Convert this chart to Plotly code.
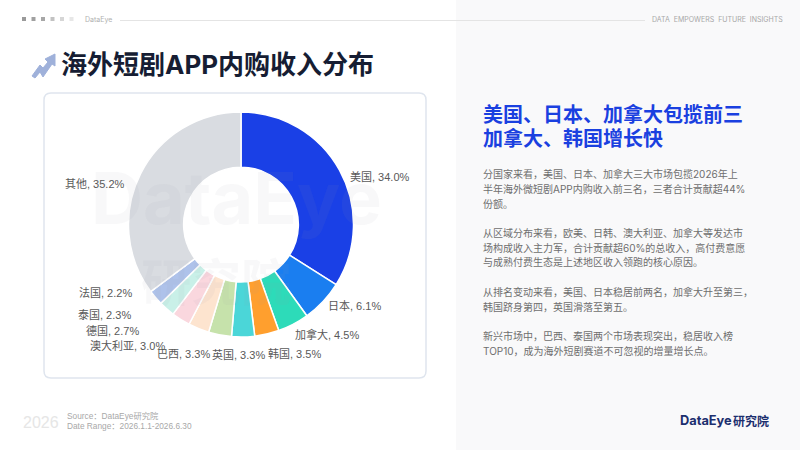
import plotly.graph_objects as go

W, H = 800, 450
CJK = "Noto Sans CJK SC"
MIXED = "Liberation Sans, " + CJK

# pie data, clockwise from 12 o'clock
countries = ["美国", "日本", "加拿大", "韩国", "英国", "巴西", "澳大利亚", "德国", "泰国", "法国", "其他"]
shares = [34.0, 6.1, 4.5, 3.5, 3.3, 3.3, 3.0, 2.7, 2.3, 2.2, 35.2]
slice_colors = ["#1a40e6", "#1a7ef0", "#2ddbb9", "#ff9f2e", "#4bd6d8", "#c6e2ab",
                "#fde4cf", "#fad7de", "#c9f0e8", "#aec2ea", "#d9dce1"]
# where each label sits in the reference (left edge, middle)
label_spots = [(350, 177), (328, 305), (295, 334), (268, 353), (212, 354), (157, 354),
               (90, 345), (86, 330), (78, 314), (79, 292), (65, 184)]

page_title = "海外短剧APP内购收入分布"
headline = ["美国、日本、加拿大包揽前三", "加拿大、韩国增长快"]
body_lines = [
    ("分国家来看，美国、日本、加拿大三大市场包揽2026年上", 174),
    ("半年海外微短剧APP内购收入前三名，三者合计贡献超44%", 189),
    ("份额。", 204),
    ("从区域分布来看，欧美、日韩、澳大利亚、加拿大等发达市", 233),
    ("场构成收入主力军，合计贡献超60%的总收入，高付费意愿", 248),
    ("与成熟付费生态是上述地区收入领跑的核心原因。", 262),
    ("从排名变动来看，美国、日本稳居前两名，加拿大升至第三，", 292),
    ("韩国跻身第四，英国滑落至第五。", 307),
    ("新兴市场中，巴西、泰国两个市场表现突出，稳居收入榜", 336),
    ("TOP10，成为海外短剧赛道不可忽视的增量增长点。", 351),
]
source_lines = [("Source：DataEye研究院", 416), ("Date Range：2026.1.1-2026.6.30", 426)]


def px(x):
    return x / W


def py(y):
    return 1 - y / H


def note(x, y, text, size, color, bold=False, anchor="left", family=CJK):
    # page text placed in pixels from the top left
    return dict(x=px(x), y=py(y), xref="paper", yref="paper", text=f"<b>{text}</b>" if bold else text,
                showarrow=False, xanchor=anchor, yanchor="middle", align="left", borderpad=0, borderwidth=0,
                font=dict(family=family, size=size, color=color))


def path_shape(d, fill, line="rgba(0,0,0,0)", width=0, layer="below"):
    return dict(type="path", path=d, xref="paper", yref="paper", fillcolor=fill,
                line=dict(color=line, width=width), layer=layer)


def rounded(x0, y0, x1, y1, r):
    return (f"M{px(x0 + r)},{py(y0)} L{px(x1 - r)},{py(y0)} Q{px(x1)},{py(y0)} {px(x1)},{py(y0 + r)} "
            f"L{px(x1)},{py(y1 - r)} Q{px(x1)},{py(y1)} {px(x1 - r)},{py(y1)} "
            f"L{px(x0 + r)},{py(y1)} Q{px(x0)},{py(y1)} {px(x0)},{py(y1 - r)} "
            f"L{px(x0)},{py(y0 + r)} Q{px(x0)},{py(y0)} {px(x0 + r)},{py(y0)} Z")


def poly(points):
    return "M" + " L".join(f"{px(a)},{py(b)}" for a, b in points) + " Z"


shapes = [
    # right panel
    dict(type="rect", xref="paper", yref="paper", x0=px(456), x1=1, y0=0, y1=1,
         fillcolor="#f9f9fa", line=dict(width=0), layer="below"),
    # header rule
    dict(type="line", xref="paper", yref="paper", x0=px(120), x1=px(645), y0=py(20.5), y1=py(20.5),
         line=dict(color="#e4e4e4", width=1), layer="below"),
    # chart card
    path_shape(rounded(44, 93, 426, 378, 7), "#ffffff", "#dfe5ee", 1.5),
    # title arrow
    path_shape(poly([(32, 76), (40, 65), (43, 68), (48, 62), (45, 59), (55, 54), (55, 66), (52, 64),
                     (43, 77), (40, 72), (35, 78)]), "#9fb1da", "#9fb1da", 1),
]
for x, op in zip([24, 33.5, 43, 52.5, 62, 71.5], [0.75, 0.7, 0.65, 0.45, 0.3, 0.18]):
    shapes.append(dict(type="rect", xref="paper", yref="paper", x0=px(x - 2), x1=px(x + 2),
                       y0=py(21), y1=py(17), fillcolor=f"rgba(120,120,120,{op})", line=dict(width=0),
                       layer="below"))

annotations = [
    note(85, 19.5, "DataEye", 7, "#b0b0b0", family="Inter"),
    note(652, 19.5, "DATA\u00a0\u00a0EMPOWERS\u00a0\u00a0FUTURE\u00a0\u00a0INSIGHTS", 7, "#a8a8a8", family="Inter"),
    note(61, 65, page_title, 26, "#161d33", bold=True, family="Inter, " + CJK),
    note(23, 422, "2026", 16, "#e6e6e6", family="Liberation Sans"),
    note(680, 420, "DataEye", 12.8, "#1c2f6e", bold=True, family="Inter"),
    note(733, 420.5, "研究院", 12, "#1c2f6e", bold=True),
    # watermark over the pie
    note(236, 197, "DataEye", 72, "rgba(150,160,176,0.07)", bold=True, anchor="center", family="Inter"),
    note(216, 279, "研究院", 50, "rgba(150,160,176,0.07)", bold=True, anchor="center"),
]
for i, line in enumerate(headline):
    annotations.append(note(483, 113.5 + 24 * i, line, 20, "#1a40e0", bold=True))
for line, y in body_lines:
    annotations.append(note(483, y, line, 10, "#6e6e6e", family="Inter, " + CJK))
for line, y in source_lines:
    annotations.append(note(67, y, line, 8.3, "#a8a8a8", family=MIXED))
for c, v, (x, y) in zip(countries, shares, label_spots):
    annotations.append(note(x, y, f"{c}, {v:.1f}%", 11, "#595959", family=MIXED))

fig = go.Figure(go.Pie(
    labels=countries,
    values=shares,
    textinfo="none",
    hole=0.51,
    sort=False,
    direction="clockwise",
    rotation=0,
    marker=dict(colors=slice_colors, line=dict(color="#ffffff", width=1.5)),
    domain=dict(x=[px(241 - 112.5), px(241 + 112.5)], y=[py(337), py(112)]),
    showlegend=False,
))
fig.update_layout(
    width=W, height=H,
    margin=dict(l=0, r=0, t=0, b=0),
    paper_bgcolor="#ffffff",
    shapes=shapes,
    annotations=annotations,
)
fig.write_html("out.html", config=dict(displayModeBar=False), post_script="document.body.style.margin='0';")
